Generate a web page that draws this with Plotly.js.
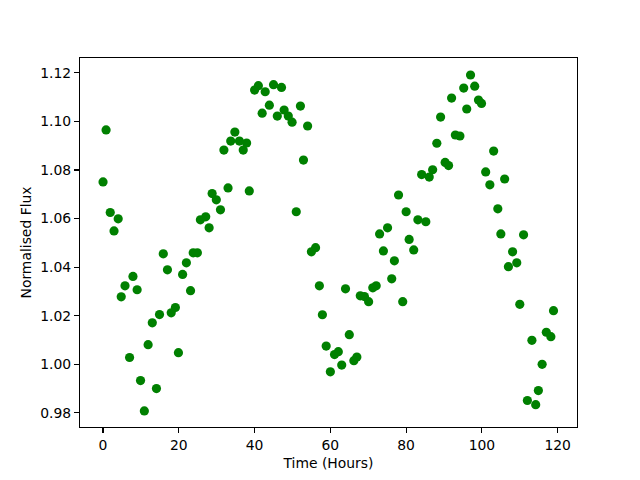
<!DOCTYPE html>
<html>
<head>
<meta charset="utf-8">
<script src="https://cdn.plot.ly/plotly-3.0.1.min.js"></script>
<style>html,body{margin:0;padding:0;background:#fff;}#chart{width:640px;height:480px;}</style>
</head>
<body>
<div id="chart"></div>
<script>
const timeHours = [0,0.8,1.9,2.9,4.0,4.8,5.8,7.0,7.9,9.0,9.9,10.9,11.9,13.0,14.1,14.9,15.9,17.0,18.0,19.1,19.9,21.0,22.0,23.1,23.8,24.9,25.7,27.1,28.0,28.8,29.9,31.0,31.9,33.0,33.7,34.8,36.0,37.0,37.9,38.6,40.0,41.0,42.0,42.8,43.9,45.0,46.0,47.1,47.8,48.9,49.9,51.0,52.1,52.9,54.0,55.0,56.1,57.1,57.9,58.9,60.0,61.1,62.1,63.0,64.0,65.0,66.2,67.0,67.9,69.0,70.1,71.2,72.1,73.0,74.0,75.1,76.2,76.9,78.0,79.1,80.0,80.8,82.0,83.1,84.1,85.2,86.1,87.0,88.1,89.1,90.3,91.2,92.0,93.0,94.2,95.2,96.0,97.0,98.1,99.1,99.9,101.0,102.1,103.1,104.2,105.0,106.0,107.0,108.1,109.2,110.0,111.0,112.0,113.2,114.2,114.9,115.9,117.0,118.2,118.9];
const normFlux = [1.0751,1.0965,1.0625,1.0549,1.0599,1.0278,1.0323,1.0028,1.0362,1.0307,0.9933,0.9808,1.0081,1.0171,0.9900,1.0205,1.0455,1.0389,1.0212,1.0234,1.0048,1.0370,1.0418,1.0303,1.0459,1.0459,1.0595,1.0607,1.0562,1.0703,1.0677,1.0636,1.0882,1.0726,1.0919,1.0956,1.0919,1.0882,1.0911,1.0714,1.1129,1.1147,1.1034,1.1122,1.1067,1.1151,1.1022,1.1140,1.1047,1.1022,1.0997,1.0628,1.1063,1.0841,1.0981,1.0463,1.0480,1.0323,1.0204,1.0075,0.9969,1.0040,1.0052,0.9997,1.0311,1.0122,1.0015,1.0030,1.0282,1.0279,1.0258,1.0315,1.0323,1.0537,1.0467,1.0562,1.0352,1.0426,1.0697,1.0258,1.0628,1.0514,1.0471,1.0595,1.0781,1.0587,1.0771,1.0801,1.0910,1.1018,1.0831,1.0818,1.1096,1.0944,1.0940,1.1137,1.1051,1.1191,1.1145,1.1088,1.1074,1.0792,1.0739,1.0878,1.0640,1.0537,1.0763,1.0402,1.0463,1.0418,1.0247,1.0533,0.9851,1.0099,0.9834,0.9892,1.0000,1.0132,1.0114,1.0221];
const xTicks = [0,20,40,60,80,100,120];
const yTicks = [0.98,1.00,1.02,1.04,1.06,1.08,1.10,1.12];

const trace = {
  x: timeHours, y: normFlux, type: 'scatter', mode: 'markers',
  marker: {color: '#008000', size: 9.2, line: {width: 0}},
  hoverinfo: 'skip'
};
const font = {family: 'DejaVu Sans, sans-serif', size: 13.9, color: '#000'};
const layout = {
  width: 640, height: 480,
  margin: {l: 80, r: 63, t: 58, b: 53, pad: 0},
  paper_bgcolor: '#fff', plot_bgcolor: '#fff',
  font: font,
  showlegend: false,
  xaxis: {
    range: [-6.08, 125.1], tickvals: xTicks, ticktext: xTicks.map(String),
    showgrid: false, zeroline: false, showline: true, mirror: true,
    linecolor: '#000', linewidth: 1.1, ticks: 'outside', ticklen: 5, tickwidth: 1.1, tickcolor: '#000',
    tickfont: font,
    title: {text: 'Time (Hours)', font: font, standoff: 6}
  },
  yaxis: {
    range: [0.9742, 1.1261], tickvals: yTicks, ticktext: yTicks.map(v => v.toFixed(2)),
    showgrid: false, zeroline: false, showline: true, mirror: true,
    linecolor: '#000', linewidth: 1.1, ticks: 'outside', ticklen: 5, tickwidth: 1.1, tickcolor: '#000',
    tickfont: font,
    title: {text: 'Normalised Flux', font: font, standoff: 5}
  }
};
Plotly.newPlot('chart', [trace], layout, {staticPlot: true, displayModeBar: false});
</script>
</body>
</html>
